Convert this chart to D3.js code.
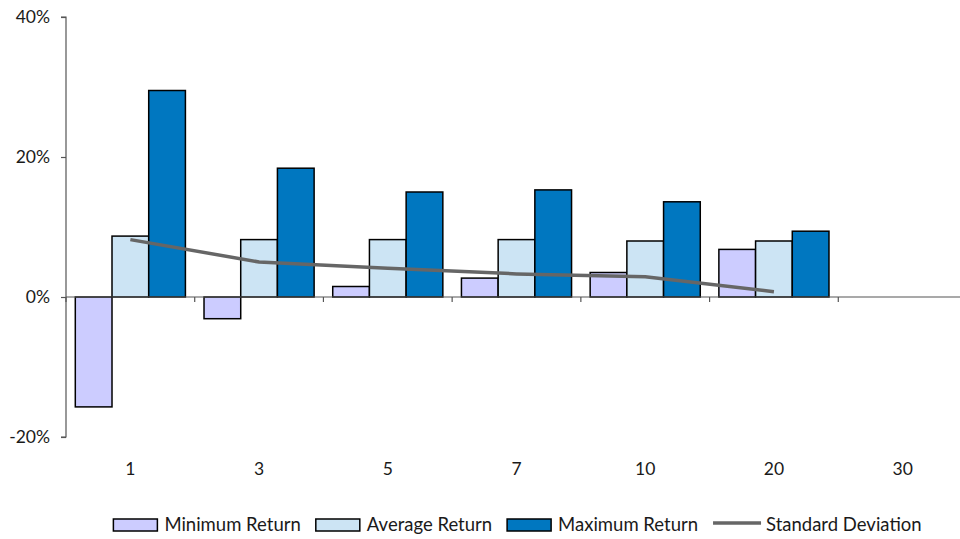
<!DOCTYPE html>
<html>
<head>
<meta charset="utf-8">
<script src="https://cdn.jsdelivr.net/npm/d3@7"></script>
<style>
  html, body { margin: 0; padding: 0; background: #fff; }
  svg { display: block; }
  text { font-family: Lato, "Liberation Sans", sans-serif; fill: #1a1a1a; }
</style>
</head>
<body>
<svg id="chart" width="960" height="539"></svg>
<script>
// Holding period (years)
const periods = ["1", "3", "5", "7", "10", "20", "30"];
// Returns in percent per holding period (null = no data)
const minReturn = [-15.7, -3.1, 1.5, 2.7, 3.5, 6.8, null];
const avgReturn = [8.7, 8.2, 8.2, 8.2, 8.0, 8.0, null];
const maxReturn = [29.5, 18.4, 15.0, 15.3, 13.6, 9.4, null];
const stdDev = [8.2, 5.0, 4.1, 3.3, 2.9, 0.75, null];
const yTicks = [-20, 0, 20, 40];

const seriesNames = ["Minimum Return", "Average Return", "Maximum Return"];
const seriesValues = [minReturn, avgReturn, maxReturn];
const seriesColors = ["#ccccff", "#cce4f4", "#0077c0"];
const lineName = "Standard Deviation";
const lineColor = "#666666";

const W = 960, H = 539;
const svg = d3.select("#chart");

const x = d3.scaleBand().domain(periods).range([66, 967]).paddingInner(0).paddingOuter(0);
const xs = d3.scaleBand().domain(seriesNames).range([0, x.bandwidth()]).paddingInner(0).paddingOuter(0.2535);
const y = d3.scaleLinear().domain([-20, 40]).range([437, 17]);

// Bars
const rows = periods.map((p, i) => ({ p, vals: seriesValues.map((s, k) => ({ name: seriesNames[k], v: s[i], c: seriesColors[k] })) }));
const groups = svg.append("g").selectAll("g").data(rows).join("g")
  .attr("transform", d => `translate(${x(d.p)},0)`);
groups.selectAll("rect").data(d => d.vals.filter(v => v.v !== null)).join("rect")
  .attr("x", d => xs(d.name))
  .attr("width", xs.bandwidth())
  .attr("y", d => y(Math.max(0, d.v)))
  .attr("height", d => Math.abs(y(d.v) - y(0)))
  .attr("fill", d => d.c)
  .attr("stroke", "#000")
  .attr("stroke-width", 1.5);

// Zero line with category boundary ticks
const zero = svg.append("g").attr("transform", `translate(0,${y(0)})`);
zero.append("line").attr("x1", 66).attr("x2", W).attr("stroke", "#555").attr("stroke-width", 1.2);
zero.selectAll("line.tick").data(periods).join("line").attr("class", "tick")
  .attr("x1", d => x(d)).attr("x2", d => x(d)).attr("y1", 0).attr("y2", 5)
  .attr("stroke", "#555").attr("stroke-width", 1.2);

// Category labels
const xAxis = svg.append("g").attr("transform", "translate(0,463)")
  .call(d3.axisBottom(x).tickSize(0).tickPadding(0));
xAxis.select(".domain").remove();
xAxis.selectAll("text").attr("font-size", 17.5).attr("font-family", null).attr("fill", "#1a1a1a");

// Y axis
const yAxis = svg.append("g").attr("transform", "translate(66,0)")
  .call(d3.axisLeft(y).tickValues(yTicks).tickSize(5).tickPadding(11).tickFormat(d => d + "%"));
yAxis.select(".domain").attr("stroke", "#555").attr("stroke-width", 1.2).attr("d", `M-5,${y(40)}H0V${y(-20)}H-5`);
yAxis.selectAll(".tick line").attr("stroke", "#555").attr("stroke-width", 1.2);
yAxis.selectAll("text").attr("font-size", 17.5).attr("font-family", null).attr("fill", "#1a1a1a");

// Standard deviation line
const linePts = periods.map((p, i) => ({ p, v: stdDev[i] })).filter(d => d.v !== null);
svg.append("path").datum(linePts)
  .attr("fill", "none").attr("stroke", lineColor).attr("stroke-width", 3.5)
  .attr("d", d3.line().x(d => x(d.p) + x.bandwidth() / 2).y(d => y(d.v)));

// Legend
const legend = svg.append("g");
const items = seriesNames.map((n, k) => ({ n, c: seriesColors[k], line: false }))
  .concat([{ n: lineName, c: lineColor, line: true }]);
let cx = 0;
const gap = 15;
const lg = legend.selectAll("g").data(items).join("g");
lg.each(function (d) {
  const g = d3.select(this);
  if (d.line) {
    g.append("line").attr("x1", 0).attr("x2", 48).attr("y1", -2).attr("y2", -2)
      .attr("stroke", d.c).attr("stroke-width", 3.5);
  } else {
    g.append("rect").attr("x", 0).attr("y", -6).attr("width", 44).attr("height", 12)
      .attr("fill", d.c).attr("stroke", "#000").attr("stroke-width", 1.5);
  }
  const tx = d.line ? 53 : 51;
  const t = g.append("text").attr("x", tx).attr("y", 0).attr("dy", "0.34em")
    .attr("font-size", 18.5).text(d.n);
  g.attr("transform", `translate(${cx},0)`);
  cx += tx + t.node().getComputedTextLength() + gap;
});
const total = cx - gap;
legend.attr("transform", `translate(${517.5 - total / 2},525)`);
</script>
</body>
</html>
